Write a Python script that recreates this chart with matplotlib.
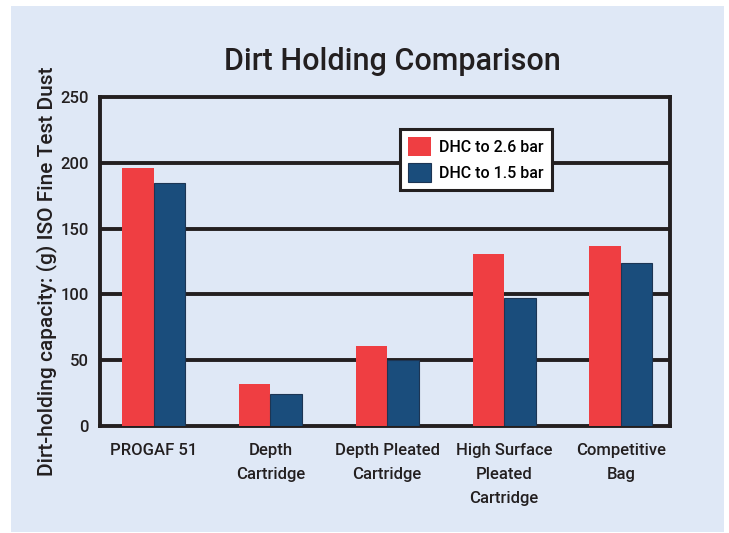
import matplotlib
matplotlib.use("Agg")
import matplotlib.pyplot as plt
import numpy as np
from matplotlib.patches import Rectangle

categories = ["PROGAF 51", "Depth\nCartridge", "Depth Pleated\nCartridge",
              "High Surface\nPleated\nCartridge", "Competitive\nBag"]
dhc_26 = [196, 32, 61, 131, 137]
dhc_15 = [185, 24, 50, 97, 124]
series_labels = ["DHC to 2.6 bar", "DHC to 1.5 bar"]
yticks = [0, 50, 100, 150, 200, 250]

FONT = ["Roboto", "DejaVu Sans"]
plt.rcParams['font.family'] = FONT
plt.rcParams['font.weight'] = "medium"

BG = "#dfe8f6"
RED = "#ef3e42"
BLUE = "#1a4d7c"
DARK = "#231f20"

fig = plt.figure(figsize=(7.29, 5.33), dpi=100, facecolor="white")
fig.patches.append(Rectangle((11 / 729, 1 - 532 / 533), (724 - 11) / 729, (532 - 6) / 533,
                             transform=fig.transFigure, facecolor=BG, edgecolor="none", zorder=-5))

ax = fig.add_axes([100 / 729, 1 - 426 / 533, 570 / 729, 329 / 533])
ax.set_zorder(2)
ax.set_facecolor(BG)

x = np.arange(len(categories))
w = 0.27
ax.bar(x - w / 2, dhc_26, width=w, color=RED, edgecolor="none", zorder=3, label=series_labels[0])
ax.bar(x + w / 2, dhc_15, width=w, color=BLUE, edgecolor="#1c3554", linewidth=0.8, zorder=3,
       label=series_labels[1])

ax.set_xlim(-0.458, 4.42)
ax.set_ylim(0, 250)
ax.set_yticks(yticks)
ax.set_yticklabels([str(t) for t in yticks], fontsize=12, color=DARK)
ax.set_xticks(x)
ax.set_xticklabels(categories, fontsize=12, color=DARK, linespacing=1.75)
ax.tick_params(axis="both", length=0, pad=8)
ax.tick_params(axis="x", pad=12)

for t in yticks[1:-1]:
    ax.axhline(t, color=DARK, linewidth=2.8, zorder=2)
for s in ax.spines.values():
    s.set_color(DARK)
    s.set_linewidth(2.8)

ax.set_ylabel("Dirt-holding capacity: (g) ISO Fine Test Dust", fontsize=15,
              fontweight="medium", color=DARK)
ax.yaxis.set_label_coords(-0.076, 0.47)

fig.text(392 / 729, 1 - 62 / 533, "Dirt Holding Comparison", ha="center", va="center",
         fontsize=22, fontweight="medium", color=DARK)

leg = ax.legend(loc="upper left", bbox_to_anchor=((400 - 100) / 570, (426 - 129) / 329),
                fontsize=11.5, frameon=True, fancybox=False, framealpha=1, borderaxespad=0,
                facecolor="white", edgecolor=DARK, handlelength=1.45, handleheight=1.45,
                borderpad=0.5, labelspacing=0.45, handletextpad=0.5)
leg.get_frame().set_linewidth(2.2)
leg.set_zorder(5)

fig.savefig("out.png", dpi=100, facecolor="white")
